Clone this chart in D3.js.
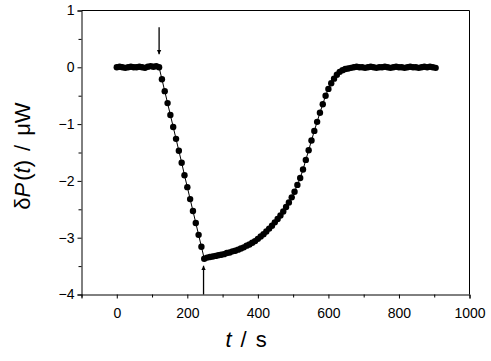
<!DOCTYPE html>
<html><head><meta charset="utf-8">
<script src="https://cdn.jsdelivr.net/npm/d3@7"></script>
<style>
html,body{margin:0;padding:0;background:#fff;}
svg{display:block;}
text{font-family:"Liberation Sans",Arial,sans-serif;fill:#000;}
</style></head>
<body>
<svg id="c" width="491" height="361"></svg>
<script>
// ---- data ----
const tStep = 8;
const flatStart = [0.00,0.01,0.00,-0.01,0.00,0.01,0.00,0.00,0.01,0.00,-0.01,0.01,0.02,0.01,0.02];
const descent = [0.00,-0.21,-0.42,-0.63,-0.84,-1.05,-1.26,-1.47,-1.68,-1.90,-2.11,-2.32,-2.53,-2.74,-2.95,-3.16,-3.37];
const recovery = [-3.35,-3.34,-3.33,-3.32,-3.31,-3.30,-3.29,-3.27,-3.26,-3.24,-3.23,-3.21,-3.19,-3.17,-3.14,-3.12,
  -3.09,-3.06,-3.02,-2.98,-2.94,-2.89,-2.84,-2.79,-2.73,-2.67,-2.61,-2.54,-2.46,-2.38,-2.29,-2.19,
  -2.07,-1.95,-1.80,-1.63,-1.46,-1.29,-1.12,-0.96,-0.80,-0.65,-0.50,-0.38,-0.28,-0.20,-0.13,-0.08,
  -0.05,-0.03,-0.02,-0.01,0.00];
const flatEnd = [0.01,0.00,0.00,-0.01,0.00,0.01,0.00,-0.01,0.00,0.00,0.01,0.00,-0.01,0.00,0.01,0.00,
  0.00,-0.01,0.00,0.01,0.00,0.00,-0.01,0.00,0.01,0.00,0.01,0.00,-0.01];
const xTicks = [0,200,400,600,800,1000];
const xMinor = [-100,100,300,500,700,900];
const yTicks = [1,0,-1,-2,-3,-4];
const yMinor = [0.5,-0.5,-1.5,-2.5,-3.5];
const arrowT = [120, 246];
const arrowV = [0.0, -3.37];
const arrowDir = ["down","up"];

const values = flatStart.concat(descent, recovery, flatEnd);
const data = values.map((v,i)=>({t:i*tStep, v}));

// ---- chart ----
const svg = d3.select("#c");
const x = d3.scaleLinear().domain([-100,1000]).range([81.5,469.5]);
const y = d3.scaleLinear().domain([-4,1]).range([294.5,10.5]);

// frame top/right
svg.append("line").attr("x1",x(-100)).attr("x2",x(1000)).attr("y1",y(1)).attr("y2",y(1)).attr("stroke","#000");
svg.append("line").attr("x1",x(1000)).attr("x2",x(1000)).attr("y1",y(1)).attr("y2",y(-4)).attr("stroke","#000");

const fmt = d => d<0 ? "\u2212"+Math.abs(d) : ""+d;

svg.append("g").attr("transform",`translate(0,${y(-4)})`)
  .call(d3.axisBottom(x).tickValues(xTicks).tickSize(4).tickPadding(10).tickFormat(fmt));
svg.append("g").attr("transform",`translate(0,${y(-4)})`)
  .call(d3.axisBottom(x).tickValues(xMinor).tickSize(3).tickFormat(""))
  .call(g=>g.select(".domain").remove());
svg.append("g").attr("transform",`translate(${x(-100)},0)`)
  .call(d3.axisLeft(y).tickValues(yTicks).tickSize(4).tickPadding(3).tickFormat(fmt));
svg.append("g").attr("transform",`translate(${x(-100)},0)`)
  .call(d3.axisLeft(y).tickValues(yMinor).tickSize(3).tickFormat(""))
  .call(g=>g.select(".domain").remove());
svg.selectAll(".tick text").style("font-size","14px").style("font-family","Liberation Sans, Arial, sans-serif");
svg.selectAll(".domain").attr("stroke","#000");
svg.selectAll(".tick line").attr("stroke","#000");

// line + dots
svg.append("path").datum(data)
  .attr("d", d3.line().x(d=>x(d.t)).y(d=>y(d.v)))
  .attr("fill","none").attr("stroke","#000").attr("stroke-width",1);
svg.append("g").selectAll("circle").data(data).join("circle")
  .attr("cx",d=>x(d.t)).attr("cy",d=>y(d.v)).attr("r",3.2).attr("fill","#000");

// arrows
const defs = svg.append("defs");
defs.append("marker").attr("id","ah").attr("viewBox","0 0 10 10").attr("refX",10).attr("refY",5)
  .attr("markerWidth",4.5).attr("markerHeight",7).attr("markerUnits","userSpaceOnUse").attr("orient","auto")
  .append("path").attr("d","M0,0 L10,5 L0,10 Z").attr("fill","#000");
arrowT.forEach((t,i)=>{
  const px = x(t), py = y(arrowV[i]);
  let y1,y2;
  if(arrowDir[i]==="down"){ y1 = py-40; y2 = py-13; }
  else { y1 = y(-4); y2 = py+7; }
  svg.append("line").attr("x1",px).attr("x2",px).attr("y1",y1).attr("y2",y2)
    .attr("stroke","#000").attr("stroke-width",1.3).attr("marker-end","url(#ah)");
});

// axis titles
svg.append("text").attr("x",246).attr("y",347).attr("text-anchor","middle")
  .style("font-size","22px")
  .html('<tspan font-style="italic">t</tspan><tspan dx="9">/</tspan><tspan dx="9">s</tspan>');
svg.append("text").attr("transform","translate(30,156) rotate(-90)").attr("text-anchor","middle")
  .style("font-size","22px")
  .html('δ<tspan font-style="italic">P</tspan><tspan dx="2">(</tspan><tspan font-style="italic">t</tspan>)<tspan dx="9">/</tspan><tspan dx="9">μW</tspan>');
</script>
</body></html>
